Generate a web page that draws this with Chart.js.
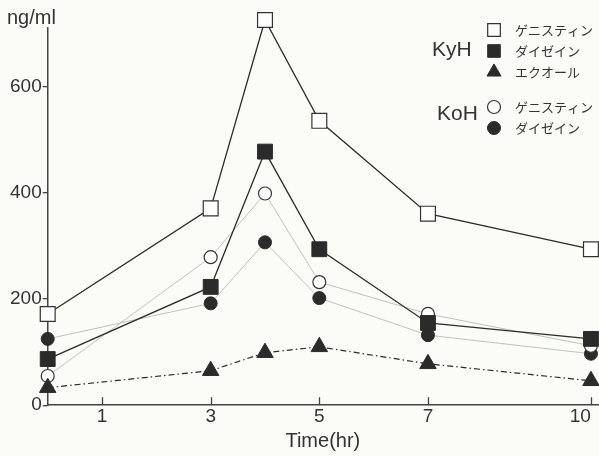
<!DOCTYPE html>
<html>
<head>
<meta charset="utf-8">
<script src="https://cdn.jsdelivr.net/npm/chart.js@4/dist/chart.umd.min.js"></script>
<style>
  body { margin: 0; background: #fbfcf7; }
  canvas { display: block; }
</style>
</head>
<body>
<canvas id="isoChart" width="599" height="456"></canvas>
<script>
// sampling times (hr) and plasma levels (ng/ml)
const times = [0, 3, 4, 5, 7, 10];
const kyhGenistein = [172, 371, 726, 536, 361, 294];
const kyhDaidzein = [87, 223, 478, 294, 155, 125];
const kyhEquol = [33, 65, 99, 110, 78, 46];
const kohGenistein = [55, 279, 399, 232, 172, 112];
const kohDaidzein = [125, 192, 307, 202, 132, 97];

const xTicks = [1, 3, 5, 7, 10];
const yTicks = [0, 200, 400, 600];

const groupNames = ['KyH', 'KoH'];
const compoundNames = ['ゲニスティン', 'ダイゼイン', 'エクオール'];

const ink = '#2b2b2b';
const paleLine = 'rgb(188, 196, 188)';

function pts(values) {
    return times.map((t, i) => ({ x: t, y: values[i] }));
}

const datasets = [
    {
        label: groupNames[0] + ' ' + compoundNames[0],
        data: pts(kyhGenistein),
        borderColor: ink, borderWidth: 1.3,
        pointStyle: 'rect', pointRadius: 10.5,
        pointBackgroundColor: '#ffffff', pointBorderColor: '#333', pointBorderWidth: 1.2
    },
    {
        label: groupNames[0] + ' ' + compoundNames[1],
        data: pts(kyhDaidzein),
        borderColor: ink, borderWidth: 1.3,
        pointStyle: 'rect', pointRadius: 10.5,
        pointBackgroundColor: ink, pointBorderColor: ink, pointBorderWidth: 1
    },
    {
        label: groupNames[0] + ' ' + compoundNames[2],
        data: pts(kyhEquol),
        borderColor: ink, borderWidth: 1.2, borderDash: [6, 3, 1.5, 3],
        pointStyle: 'triangle', pointRadius: 9.5,
        pointBackgroundColor: ink, pointBorderColor: ink, pointBorderWidth: 1
    },
    {
        label: groupNames[1] + ' ' + compoundNames[0],
        data: pts(kohGenistein),
        borderColor: paleLine, borderWidth: 1,
        pointStyle: 'circle', pointRadius: 6.5,
        pointBackgroundColor: '#ffffff', pointBorderColor: '#333', pointBorderWidth: 1.2
    },
    {
        label: groupNames[1] + ' ' + compoundNames[1],
        data: pts(kohDaidzein),
        borderColor: paleLine, borderWidth: 1,
        pointStyle: 'circle', pointRadius: 6.5,
        pointBackgroundColor: ink, pointBorderColor: ink, pointBorderWidth: 1
    }
];
datasets.forEach(d => { d.clip = false; d.tension = 0; d.fill = false; });

// legend layout: which dataset goes in which group row
const legendRows = [
    { ds: 0, y: 30 }, { ds: 1, y: 51 }, { ds: 2, y: 72 },
    { ds: 3, y: 107 }, { ds: 4, y: 128 }
];
const legendGroups = [
    { name: groupNames[0], x: 432, y: 50 },
    { name: groupNames[1], x: 437, y: 114 }
];

const paperPlugin = {
    id: 'paper',
    beforeDraw(chart) {
        const c = chart.ctx;
        c.save();
        c.fillStyle = '#fbfcf7';
        c.fillRect(0, 0, chart.width, chart.height);
        c.restore();
    },
    afterDraw(chart) {
        const c = chart.ctx;
        const xs = chart.scales.x;
        const area = chart.chartArea;
        c.save();
        // x tick marks point inward
        c.strokeStyle = '#444';
        c.lineWidth = 1.3;
        xTicks.forEach(v => {
            const px = Math.round(xs.getPixelForValue(v)) + 0.5;
            c.beginPath();
            c.moveTo(px, area.bottom);
            c.lineTo(px, area.bottom - 8);
            c.stroke();
        });
        // unit label above the y axis
        c.fillStyle = '#333';
        c.font = '20px "Liberation Sans", Arial, sans-serif';
        c.textBaseline = 'middle';
        c.textAlign = 'left';
        c.fillText('ng/ml', 7, 18);
        // grouped legend
        c.font = '21px "Liberation Sans", Arial, sans-serif';
        legendGroups.forEach(g => c.fillText(g.name, g.x, g.y));
        c.font = '13px "Noto Sans CJK JP", sans-serif';
        legendRows.forEach(r => {
            const d = chart.data.datasets[r.ds];
            c.fillStyle = d.pointBackgroundColor;
            c.strokeStyle = d.pointBorderColor;
            c.lineWidth = d.pointBorderWidth;
            Chart.helpers.drawPoint(c, {
                pointStyle: d.pointStyle,
                radius: d.pointStyle === 'circle' ? d.pointRadius : d.pointRadius * 0.85,
                rotation: 0,
                borderWidth: d.pointBorderWidth
            }, 494, r.y);
            c.fillStyle = '#333';
            c.fillText(d.label.split(' ')[1], 515, r.y);
        });
        c.restore();
    }
};

new Chart(document.getElementById('isoChart'), {
    type: 'line',
    data: { datasets: datasets },
    options: {
        responsive: false,
        animation: false,
        layout: { autoPadding: false, padding: { top: 28, left: 9, right: 1, bottom: 0 } },
        plugins: {
            legend: { display: false },
            tooltip: { enabled: false }
        },
        scales: {
            x: {
                type: 'linear',
                min: 0,
                max: 10.13,
                afterBuildTicks: s => { s.ticks = [0].concat(xTicks).map(v => ({ value: v })); },
                grid: { display: true, drawOnChartArea: false, drawTicks: false },
                border: { display: true, color: '#444', width: 1.5 },
                ticks: {
                    align: 'inner',
                    padding: 0,
                    color: '#333',
                    font: { family: '"Liberation Sans", Arial, sans-serif', size: 19 },
                    callback: v => (v === 0 ? '' : v)
                },
                title: {
                    display: true,
                    text: 'Time(hr)',
                    color: '#333',
                    padding: { top: 1, bottom: 3 },
                    font: { family: '"Liberation Sans", Arial, sans-serif', size: 20 }
                }
            },
            y: {
                min: 0,
                max: 711,
                afterBuildTicks: s => { s.ticks = yTicks.map(v => ({ value: v })); },
                grid: { display: true, drawOnChartArea: false, drawTicks: true, tickLength: 5, color: '#444', lineWidth: 1.3 },
                border: { display: true, color: '#444', width: 1.5 },
                ticks: {
                    padding: 1,
                    color: '#333',
                    font: { family: '"Liberation Sans", Arial, sans-serif', size: 19 }
                }
            }
        }
    },
    plugins: [paperPlugin]
});
</script>
</body>
</html>
